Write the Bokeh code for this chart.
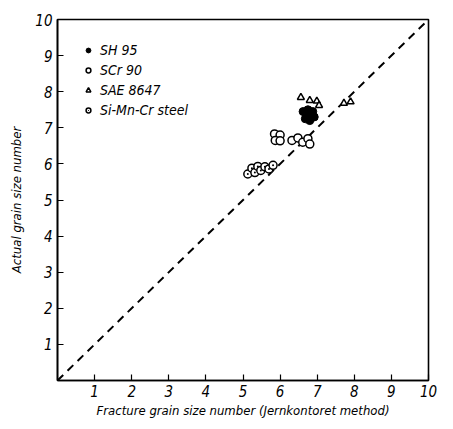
from bokeh.plotting import figure
from bokeh.models import Legend, LegendItem, FixedTicker, Range1d
from bokeh.embed import file_html
from bokeh.resources import INLINE

# --- data ---
sh95_x = [6.62, 6.72, 6.82, 6.68, 6.80, 6.92, 6.75, 6.88]
sh95_y = [7.45, 7.35, 7.40, 7.25, 7.20, 7.30, 7.50, 7.45]

scr90_x = [5.85, 6.00, 5.87, 6.00, 6.32, 6.48, 6.61, 6.75, 6.80]
scr90_y = [6.83, 6.80, 6.65, 6.64, 6.65, 6.72, 6.60, 6.70, 6.55]

sae_x = [6.56, 6.80, 6.99, 7.05, 7.72, 7.90]
sae_y = [7.84, 7.76, 7.74, 7.62, 7.68, 7.72]

simncr_x = [5.13, 5.24, 5.32, 5.40, 5.48, 5.59, 5.70, 5.81]
simncr_y = [5.72, 5.88, 5.76, 5.93, 5.82, 5.92, 5.86, 5.96]

diag = [0, 10]
ticks = [1, 2, 3, 4, 5, 6, 7, 8, 9, 10]

FONT = "DejaVu Sans Condensed, DejaVu Sans, sans-serif"

p = figure(width=437, height=420, output_backend="svg", toolbar_location=None,
           x_range=Range1d(0, 10), y_range=Range1d(0, 10),
           min_border_left=57, min_border_right=9, min_border_top=19, min_border_bottom=35)

p.xgrid.visible = False
p.ygrid.visible = False
p.outline_line_color = "black"
p.outline_line_width = 1.6
p.outline_line_alpha = 1

for ax in (p.xaxis[0], p.yaxis[0]):
    ax.ticker = FixedTicker(ticks=ticks)
    ax.major_tick_in = 6
    ax.major_tick_out = 0
    ax.minor_tick_line_color = None
    ax.axis_line_width = 1.6
    ax.axis_line_color = "black"
    ax.major_tick_line_color = "black"
    ax.major_tick_line_width = 1.2
    ax.major_label_text_font = FONT
    ax.major_label_text_font_style = "italic"
    ax.major_label_text_font_size = "15px"
    ax.major_label_text_color = "black"
    ax.axis_label_text_font = FONT
    ax.axis_label_text_font_style = "italic"
    ax.axis_label_text_font_size = "13px"
    ax.axis_label_text_color = "black"

p.xaxis[0].axis_label = "Fracture grain size number (Jernkontoret method)"
p.yaxis[0].axis_label = "Actual grain size number"
p.xaxis[0].major_label_standoff = 4
p.yaxis[0].major_label_standoff = 5
p.xaxis[0].axis_label_standoff = 3
p.yaxis[0].axis_label_standoff = 8

p.line(diag, diag, line_color="black", line_width=2, line_dash="8 6")

r1 = p.scatter(sh95_x, sh95_y, marker="circle", size=8, fill_color="black", line_color="black")
r2 = p.scatter(scr90_x, scr90_y, marker="circle", size=8, fill_color="white", line_color="black", line_width=1.5)
r3 = p.scatter(sae_x, sae_y, marker="triangle", size=7, fill_color="white", line_color="black", line_width=1.5)
r4 = p.scatter(simncr_x, simncr_y, marker="circle_dot", size=8, fill_color="white", line_color="black", line_width=1.5)

legend = Legend(items=[
    LegendItem(label="SH 95", renderers=[r1]),
    LegendItem(label="SCr 90", renderers=[r2]),
    LegendItem(label="SAE 8647", renderers=[r3]),
    LegendItem(label="Si-Mn-Cr steel", renderers=[r4]),
], location=(25, 262))
legend.border_line_color = None
legend.background_fill_alpha = 0
legend.label_text_font = FONT
legend.label_text_font_style = "italic"
legend.label_text_font_size = "14px"
legend.label_text_color = "black"
legend.glyph_width = 12
legend.glyph_height = 12
legend.spacing = 4
legend.label_height = 16
legend.label_standoff = 6
legend.margin = 0
legend.padding = 0
p.add_layout(legend)

open("out.html", "w").write(file_html(p, INLINE))
